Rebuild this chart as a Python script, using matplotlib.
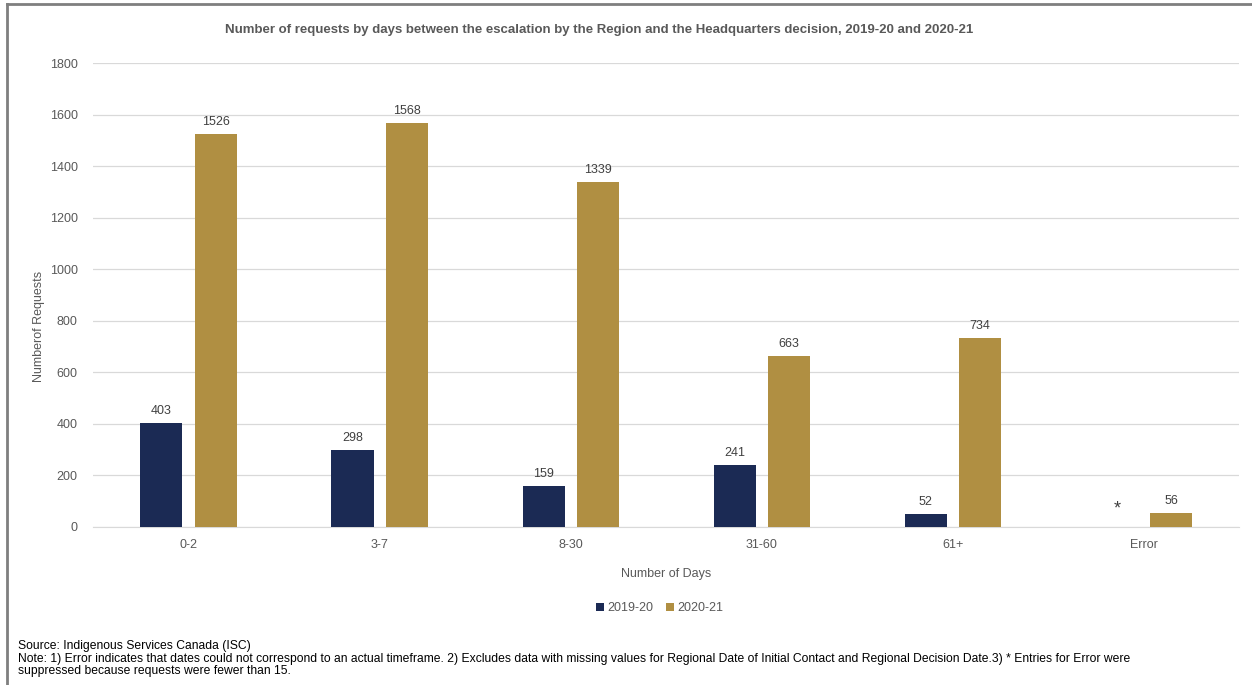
import numpy as np
from matplotlib import pyplot as plt
from matplotlib.lines import Line2D

plt.rcParams['font.family'] = ['Liberation Sans', 'DejaVu Sans']

# data
categories = ['0-2', '3-7', '8-30', '31-60', '61+', 'Error']
values_1920 = [403, 298, 159, 241, 52, 0]
values_2021 = [1526, 1568, 1339, 663, 734, 56]
labels_1920 = ['403', '298', '159', '241', '52', '*']
labels_2021 = ['1526', '1568', '1339', '663', '734', '56']

navy = '#1b2a54'
gold = '#b08f42'
text_gray = '#595959'

fig = plt.figure(figsize=(12.52, 6.85), dpi=100)
ax = fig.add_axes([0.0743, 0.2307, 0.9157, 0.6773])

x = np.arange(len(categories))
w = 0.22
off = 0.142
b1 = ax.bar(x - off, values_1920, w, color=navy, label='2019-20', zorder=3)
b2 = ax.bar(x + off, values_2021, w, color=gold, label='2020-21', zorder=3)

# data labels
for rect, lab in zip(b1, labels_1920):
    if lab == '*':
        ax.annotate(lab, (rect.get_x() + rect.get_width() / 2, rect.get_height()),
                    xytext=(0, 13), textcoords='offset points', ha='center', va='center',
                    fontsize=13, color='#404040')
    else:
        ax.annotate(lab, (rect.get_x() + rect.get_width() / 2, rect.get_height()),
                    xytext=(0, 8.5), textcoords='offset points', ha='center', va='center',
                    fontsize=9, color='#404040')
for rect, lab in zip(b2, labels_2021):
    ax.annotate(lab, (rect.get_x() + rect.get_width() / 2, rect.get_height()),
                xytext=(0, 8.5), textcoords='offset points', ha='center', va='center',
                fontsize=9, color='#404040')

ax.set_xlim(-0.5, len(categories) - 0.5)
ax.set_ylim(0, 1800)
ax.set_yticks(range(0, 1801, 200))
ax.set_xticks(x)
ax.set_xticklabels(categories)
ax.tick_params(axis='both', length=0, labelsize=9, labelcolor=text_gray)
ax.tick_params(axis='y', pad=11)
ax.tick_params(axis='x', pad=9)
ax.grid(axis='y', color='#d9d9d9', linewidth=0.9, zorder=0)
for s in ['top', 'right', 'left']:
    ax.spines[s].set_visible(False)
ax.spines['bottom'].set_color('#d9d9d9')

ax.set_xlabel('Number of Days', fontsize=9, color=text_gray, labelpad=12)
fig.text(0.031, 1 - 326 / 685, 'Numberof Requests', rotation=90, ha='center', va='center',
         fontsize=9, color=text_gray)

fig.text(599 / 1252, 1 - 30 / 685,
         'Number of requests by days between the escalation by the Region and the Headquarters decision, 2019-20 and 2020-21',
         ha='center', va='center', fontsize=9.5, fontweight='bold', color=text_gray)

leg = fig.legend(handles=[b1, b2], loc='center', bbox_to_anchor=(0.527, 1 - 608 / 685),
                 ncol=2, frameon=False, fontsize=9, handlelength=0.6, handleheight=0.6,
                 handletextpad=0.3, columnspacing=1.0)
for t in leg.get_texts():
    t.set_color(text_gray)

fig.text(18 / 1252, 1 - 646 / 685, 'Source: Indigenous Services Canada (ISC)',
         ha='left', va='center', fontsize=8.7, color='black')
fig.text(18 / 1252, 1 - 665 / 685,
         'Note: 1) Error indicates that dates could not correspond to an actual timeframe. 2) Excludes data with missing values '
         'for Regional Date of Initial Contact and Regional Decision Date.3) * Entries for Error were\n'
         'suppressed because requests were fewer than 15.',
         ha='left', va='center', fontsize=8.7, color='black', linespacing=1.0)

# chart border
fig.add_artist(Line2D([7 / 1252, 7 / 1252], [0, 1 - 4 / 685], color='#7f7f7f', linewidth=2))
fig.add_artist(Line2D([7 / 1252, 1], [1 - 4 / 685, 1 - 4 / 685], color='#7f7f7f', linewidth=2))

fig.savefig('out.png', dpi=100)
